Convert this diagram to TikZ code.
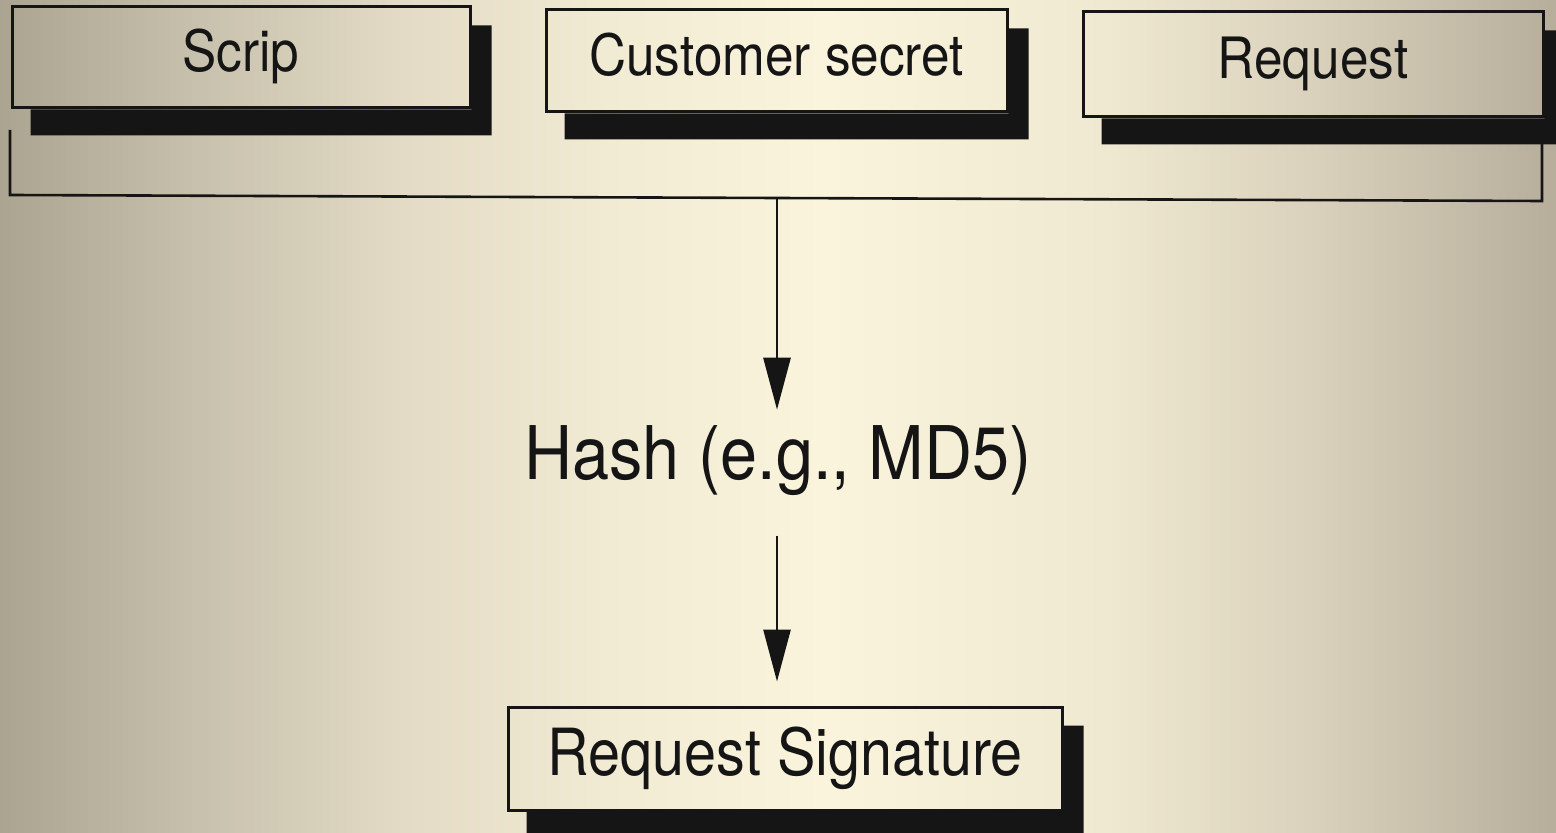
\documentclass[tikz,border=0pt]{standalone}
\usepackage{fontspec}
\usepackage{graphicx}
\setmainfont{TeX Gyre Heros}
\usetikzlibrary{arrows.meta,calc}

% paper tones, from the darker outer edges to the light middle
\definecolor{bgA}{HTML}{AAA491}
\definecolor{bgB}{HTML}{C8C1AD}
\definecolor{bgC}{HTML}{E3DBC5}
\definecolor{bgD}{HTML}{F2EBD4}
\definecolor{bgE}{HTML}{FAF4DD}
\definecolor{bgF}{HTML}{F0E9D2}
\definecolor{bgG}{HTML}{DAD2BC}
\definecolor{bgH}{HTML}{B6AE9B}
\definecolor{ink}{HTML}{151515}

% the visible band of a shading runs from 25bp to 75bp
\pgfdeclarehorizontalshading{paper}{100bp}{%
  color(0bp)=(bgA); color(25bp)=(bgA); color(31.5bp)=(bgB); color(38bp)=(bgC);
  color(44.5bp)=(bgD); color(51.5bp)=(bgE); color(60.5bp)=(bgF);
  color(67bp)=(bgG); color(75bp)=(bgH); color(100bp)=(bgH)}

% L-shaped block shadow below and to the right of a box
\newcommand\castshadow[1]{%
  \fill[ink] ([xshift=10pt]#1.south west)
    -- ([xshift=10pt,yshift=-13pt]#1.south west)
    -- ([xshift=10pt,yshift=-13pt]#1.south east)
    -- ([xshift=10pt,yshift=-10pt]#1.north east)
    -- ([yshift=-10pt]#1.north east)
    -- (#1.south east) -- cycle;}

\tikzset{
  labelbox/.style={draw=ink, line width=1.5pt, inner sep=0pt,
    font=\fontsize{28.5pt}{34pt}\selectfont, text=ink,
    text height=20.5pt, text depth=6pt},
  flow/.style={draw=ink, line width=1.4pt,
    -{Triangle[length=26pt,width=13.5pt]}},
  joinline/.style={draw=ink, line width=1.3pt}
}

\begin{document}
\begin{tikzpicture}[x=0.5pt,y=-0.5pt]
  \useasboundingbox (0,0) rectangle (1556,833);
  \clip (0,0) rectangle (1556,833);
  \shade[shading=paper] (0,0) rectangle (1556,833);

  % inputs
  \node[labelbox, minimum width=229pt, minimum height=50.5pt] (scrip)
    at (241,57.5) {\scalebox{0.9}[1]{Scrip}};
  \node[labelbox, minimum width=230.5pt, minimum height=51pt] (secret)
    at (776.5,61) {\scalebox{0.9}[1]{Customer secret}};
  \node[labelbox, minimum width=230pt, minimum height=52.5pt] (request)
    at (1313,64.5) {\scalebox{0.9}[1]{Request}};

  \castshadow{scrip}
  \castshadow{secret}
  \castshadow{request}

  % bracket gathering the three inputs
  \coordinate (bl1) at (10,130);
  \coordinate (bl2) at (10,195);
  \coordinate (br2) at (1542,201);
  \coordinate (br1) at (1542,140);
  \coordinate (join) at (777,198);
  \draw[joinline] (bl1) -- (bl2) -- (br2) -- (br1);

  % hash step
  \node[anchor=base, inner xsep=0pt, inner ysep=8.35pt, text=ink,
        font=\fontsize{37pt}{44pt}\selectfont,
        text height=26.6pt, text depth=7.8pt] (hash)
    at (778,480) {\scalebox{0.9}[1]{Hash (e.g., MD5)}};

  % output
  \node[labelbox, minimum width=277pt, minimum height=51.5pt,
        font=\fontsize{32.5pt}{39pt}\selectfont,
        text height=23.4pt, text depth=6.8pt] (sig)
    at (785,758.5) {\scalebox{0.885}[1]{Request Signature}};
  \castshadow{sig}

  \draw[flow] (join) -- (join |- hash.north);
  \draw[flow, shorten <=11.5pt, shorten >=12pt]
    (join |- hash.south) -- (join |- sig.north);
\end{tikzpicture}
\end{document}
